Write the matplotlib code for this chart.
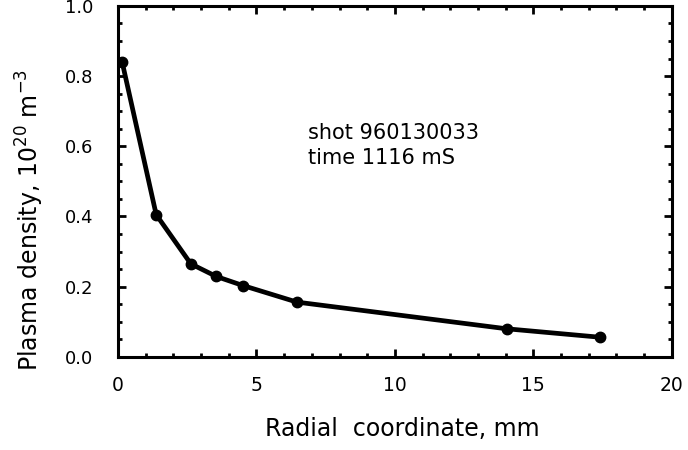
import matplotlib
matplotlib.use('Agg')
import matplotlib.pyplot as plt
from matplotlib.ticker import MultipleLocator

# Radial density profile
radius_mm = [0.15, 1.38, 2.63, 3.55, 4.52, 6.46, 14.03, 17.39]
density = [0.84, 0.405, 0.265, 0.229, 0.203, 0.156, 0.080, 0.056]

x_ticks = [0, 5, 10, 15, 20]
y_ticks = [0.0, 0.2, 0.4, 0.6, 0.8, 1.0]

plt.rcParams['font.family'] = ['DejaVu Sans']

fig = plt.figure(figsize=(6.88, 4.5), dpi=100)
ax = fig.add_axes([0.1715, 0.207, 0.805, 0.78])

ax.plot(radius_mm, density, color='black', linewidth=3.4,
        marker='o', markersize=7.5, solid_joinstyle='round')

ax.set_xlim(0, 20)
ax.set_ylim(0, 1.0)
ax.set_xticks(x_ticks)
ax.set_yticks(y_ticks)
ax.set_yticklabels(['%.1f' % v for v in y_ticks])
ax.xaxis.set_minor_locator(MultipleLocator(1))
ax.yaxis.set_minor_locator(MultipleLocator(0.05))

ax.tick_params(which='both', direction='in', top=True, right=True,
               width=2, labelsize=13)
ax.tick_params(which='major', length=6)
ax.tick_params(which='minor', length=3)
ax.tick_params(axis='x', pad=14, labelsize=13.5)
ax.tick_params(axis='y', pad=18)
for s in ax.spines.values():
    s.set_linewidth(2.2)

ax.set_xlabel('Radial  coordinate, mm', fontsize=17)
ax.xaxis.set_label_coords(0.513, -0.172)
ax.set_ylabel('Plasma density, 10$^{20}$ m$^{-3}$', fontsize=17)
ax.yaxis.set_label_coords(-0.13, 0.39)

ax.text(6.86, 0.665, 'shot 960130033\ntime 1116 mS', fontsize=15,
        linespacing=1.3, va='top')

plt.savefig('out.png', dpi=100)
